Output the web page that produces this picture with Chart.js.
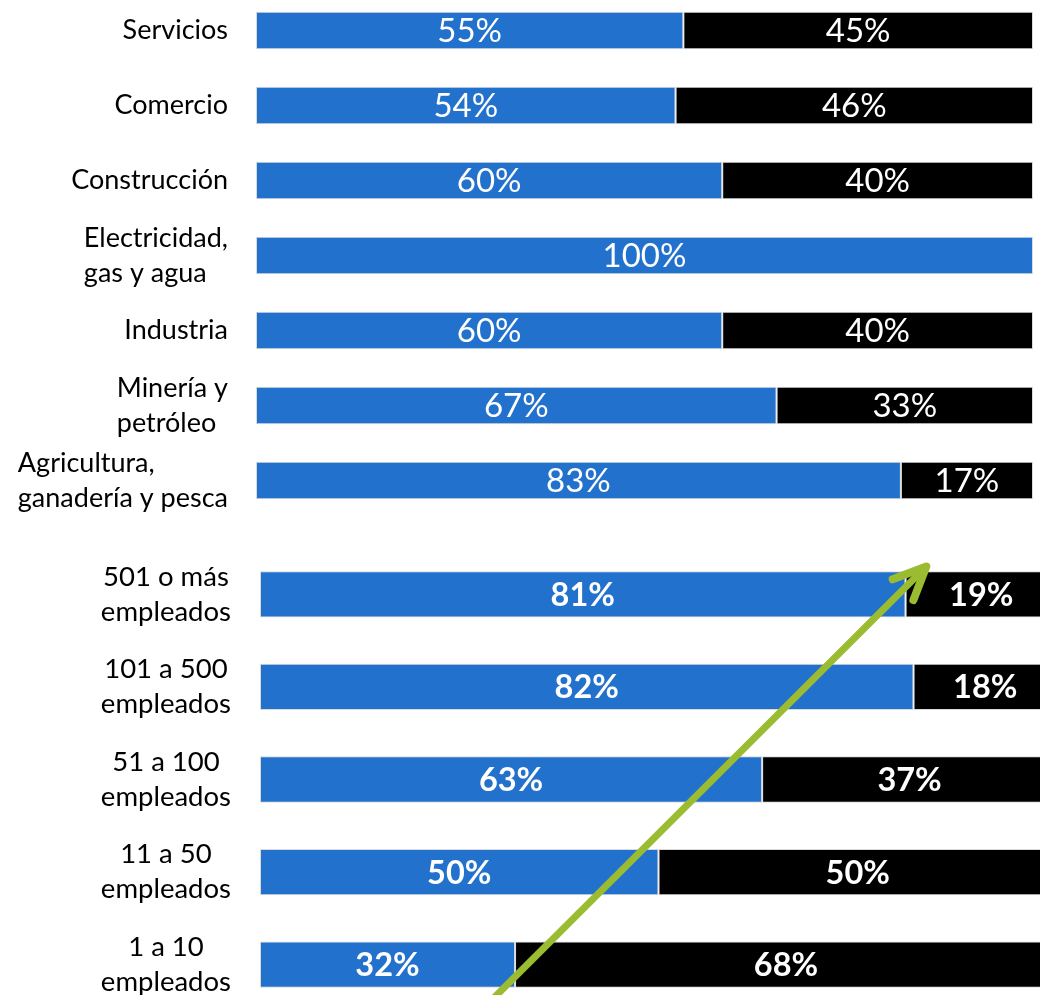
<!DOCTYPE html>
<html>
<head>
<meta charset="utf-8">
<script src="https://cdn.jsdelivr.net/npm/chart.js@4.4.0/dist/chart.umd.min.js"></script>
<style>
  html, body { margin: 0; padding: 0; background: #fff; width: 1040px; height: 995px; overflow: hidden; }
  canvas { position: absolute; left: 0; }
  #top { top: -7.5px; }
  #bottom { top: 547.75px; }
</style>
</head>
<body>
<canvas id="top" width="1040" height="525"></canvas>
<canvas id="bottom" width="1060" height="463"></canvas>
<script>
const sectorLabels = [['Servicios'], ['Comercio'], ['Construcción'], ['Electricidad,', 'gas y agua'],
  ['Industria'], ['Minería y', 'petróleo'], ['Agricultura,', 'ganadería y pesca']];
const sectorBlue = [55, 54, 60, 100, 60, 67, 83];
const sectorBlack = [45, 46, 40, 0, 40, 33, 17];

const sizeLabels = [['501 o más', 'empleados'], ['101 a 500', 'empleados'], ['51 a 100', 'empleados'],
  ['11 a 50', 'empleados'], ['1 a 10', 'empleados']];
const sizeBlue = [81, 82, 63, 50, 32];
const sizeBlack = [19, 18, 37, 50, 68];

// trend arrow, in axis units of the lower chart (x in %, y in category index)
const arrowFrom = { x: 27.7, y: 4.5 };
const arrowTo = { x: 83.6, y: -0.3 };

const BLUE = '#2271CC';
const GREEN = '#9BBB31';
const FONT = 'Lato, "Open Sans", sans-serif';

// category labels (block right aligned, lines left aligned or centered) + white value labels
const labelPlugin = {
  id: 'labels',
  afterDatasetsDraw(chart, args, opts) {
    const ctx = chart.ctx;
    const yScale = chart.scales.y;
    ctx.save();
    ctx.textBaseline = 'middle';
    ctx.fillStyle = '#000';
    ctx.font = opts.catFont;
    const right = chart.chartArea.left - opts.gap;
    chart.data.labels.forEach((lines, i) => {
      const cy = yScale.getPixelForValue(i);
      const widest = Math.max(...lines.map(l => ctx.measureText(l).width));
      lines.forEach((line, j) => {
        const ly = cy + (j - (lines.length - 1) / 2) * opts.lineHeight;
        if (opts.center) {
          ctx.textAlign = 'center';
          ctx.fillText(line, right - widest / 2, ly);
        } else {
          ctx.textAlign = 'left';
          ctx.fillText(line, right - widest, ly);
        }
      });
    });

    ctx.fillStyle = '#fff';
    ctx.font = opts.valueFont;
    ctx.textAlign = 'center';
    chart.data.datasets.forEach((ds, d) => {
      chart.getDatasetMeta(d).data.forEach((bar, i) => {
        if (!ds.data[i]) return;
        ctx.fillText(ds.data[i] + '%', (bar.x + bar.base) / 2, bar.y + opts.valueShift);
      });
    });
    ctx.restore();
  }
};

const arrowPlugin = {
  id: 'arrow',
  afterDraw(chart, args, opts) {
    if (!opts.show) return;
    const xs = chart.scales.x, ys = chart.scales.y;
    const x1 = xs.getPixelForValue(arrowFrom.x), y1 = ys.getPixelForValue(arrowFrom.y);
    const x2 = xs.getPixelForValue(arrowTo.x), y2 = ys.getPixelForValue(arrowTo.y);
    const ang = Math.atan2(y2 - y1, x2 - x1);
    const ctx = chart.ctx;
    ctx.save();
    ctx.strokeStyle = GREEN;
    ctx.lineCap = 'round';
    ctx.lineJoin = 'round';
    ctx.lineWidth = 7;
    ctx.beginPath();
    ctx.moveTo(x1, y1);
    ctx.lineTo(x2 - 4 * Math.cos(ang), y2 - 4 * Math.sin(ang));
    ctx.stroke();
    ctx.lineWidth = 8;
    ctx.beginPath();
    ctx.moveTo(x2 - 36 * Math.cos(ang - 0.42), y2 - 36 * Math.sin(ang - 0.42));
    ctx.lineTo(x2, y2);
    ctx.lineTo(x2 - 36 * Math.cos(ang + 0.42), y2 - 36 * Math.sin(ang + 0.42));
    ctx.stroke();
    ctx.restore();
  }
};

function makeChart(id, labels, blue, black, axisWidth, padRight, opts) {
  return new Chart(document.getElementById(id), {
    type: 'bar',
    data: {
      labels: labels,
      datasets: [
        { data: blue, backgroundColor: BLUE, borderColor: '#d9d9d9', borderWidth: 1, borderSkipped: false },
        { data: black, backgroundColor: '#000', borderColor: '#d9d9d9', borderWidth: 1, borderSkipped: false }
      ]
    },
    options: {
      indexAxis: 'y',
      responsive: false,
      animation: false,
      categoryPercentage: 1,
      barPercentage: 0.5,
      layout: { padding: { left: 0, right: padRight, top: 0, bottom: 0 } },
      scales: {
        x: { stacked: true, min: 0, max: 100, display: false },
        y: {
          stacked: true,
          grid: { display: false, drawTicks: false },
          border: { display: false },
          ticks: { display: false },
          afterFit: (scale) => { scale.width = axisWidth; }
        }
      },
      plugins: {
        legend: { display: false },
        tooltip: { enabled: false },
        labels: opts,
        arrow: { show: id === 'bottom' }
      }
    },
    plugins: [labelPlugin, arrowPlugin]
  });
}

makeChart('top', sectorLabels, sectorBlue, sectorBlack, 256, 7, {
  catFont: '27px ' + FONT, valueFont: '33px ' + FONT, gap: 28, lineHeight: 35, center: false, valueShift: 1
});
makeChart('bottom', sizeLabels, sizeBlue, sizeBlack, 260, 3, {
  catFont: '27.5px ' + FONT, valueFont: 'bold 32.5px ' + FONT, gap: 29, lineHeight: 35, center: true, valueShift: 1
});
</script>
</body>
</html>
